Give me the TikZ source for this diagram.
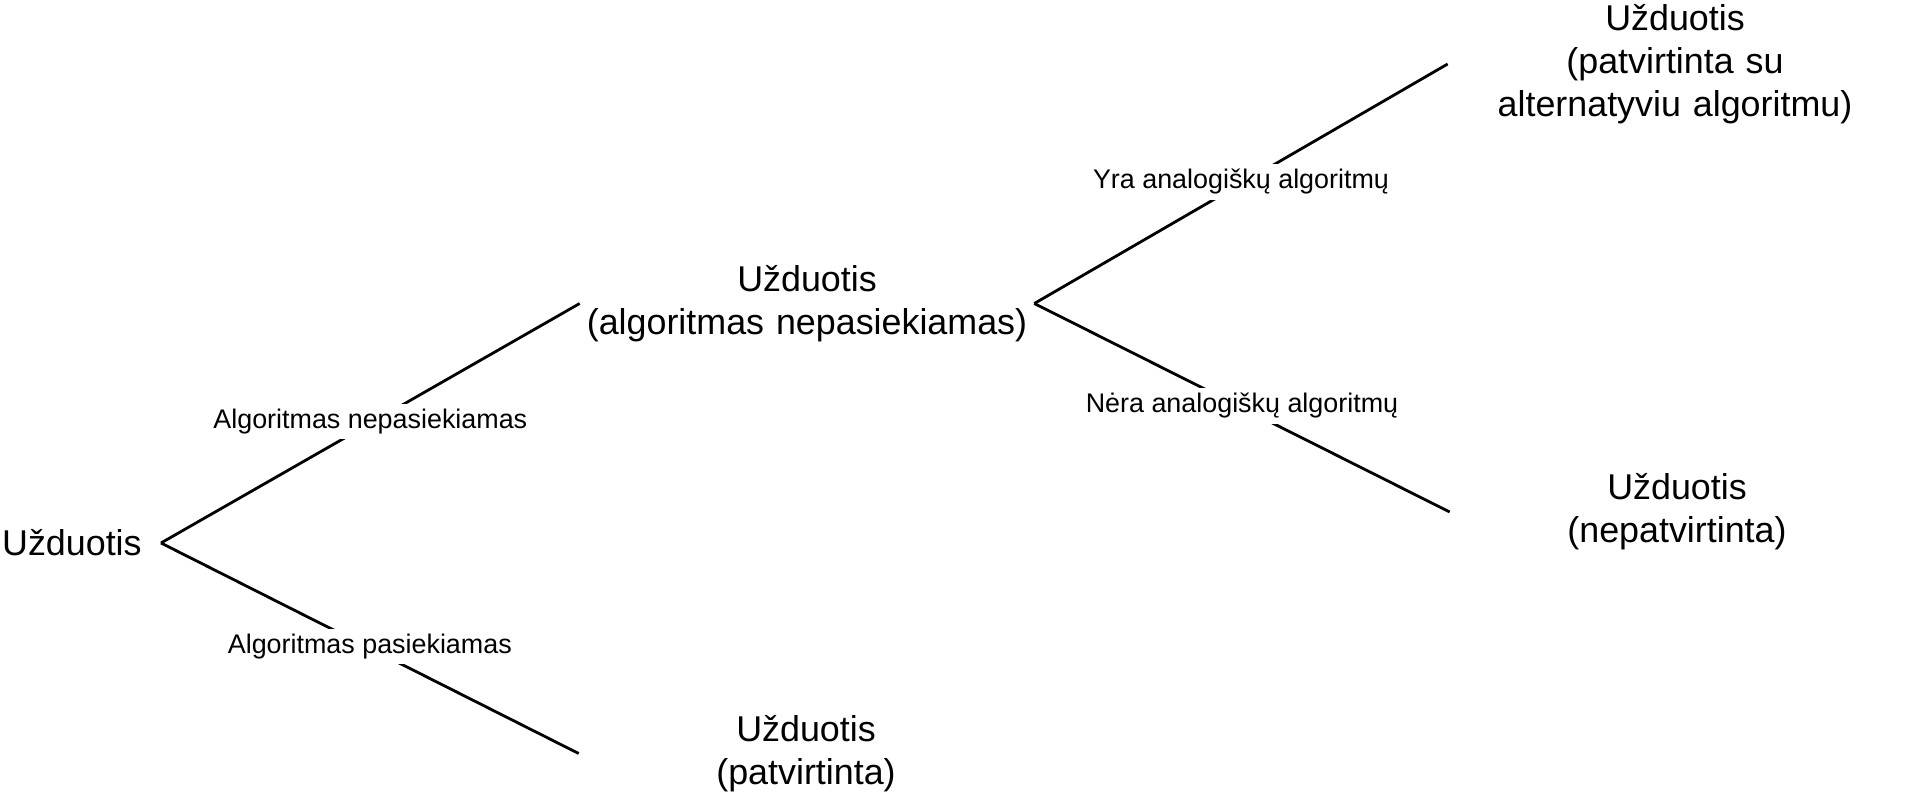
\documentclass[tikz,border=0pt]{standalone}
\usepackage{fontspec}
\setmainfont{Liberation Sans}
\usetikzlibrary{positioning}
\def\thickness{ultra thick}
\tikzset{
task/.style={text width=9.08cm, align=center, inner sep=0pt,
	font=\fontsize{20.4}{24.5}\selectfont},
cond/.style={fill=white, inner xsep=3pt, inner ysep=3pt,
	font=\fontsize{15.3}{18}\selectfont},
branch/.style={\thickness, black},
}

\begin{document}
\begin{tikzpicture}
\useasboundingbox (0,0) rectangle (38.64,15.84);
%Place the nodes
\node[font=\fontsize{20.4}{24.5}\selectfont, inner xsep=0.38cm, anchor=east] (root) at (3.22,4.98) {Užduotis};
\node[task] (alg) at (16.14,9.77) {Užduotis\\(algoritmas nepasiekiamas)};
\node[task] (ok) at (16.12,0.77) {Užduotis\\(patvirtinta)};
\node[task] (alt) at (33.5,14.56) {Užduotis\\(patvirtinta su\\alternatyviu algoritmu)};
\node[task] (nope) at (33.54,5.6) {Užduotis\\(nepatvirtinta)};

%
\draw[branch] (root.east) -- node[cond, yshift=1pt] {Algoritmas nepasiekiamas} (alg.west);
\draw[branch] (root.east) -- node[cond, yshift=1pt] {Algoritmas pasiekiamas} (ok.west);

%
\draw[branch] (alg.east) -- node[cond, yshift=1pt] {Yra analogiškų algoritmų} (alt.west);
\draw[branch] (alg.east) -- node[cond, yshift=1pt] {Nėra analogiškų algoritmų} (nope.west);

\end{tikzpicture}
\end{document}
